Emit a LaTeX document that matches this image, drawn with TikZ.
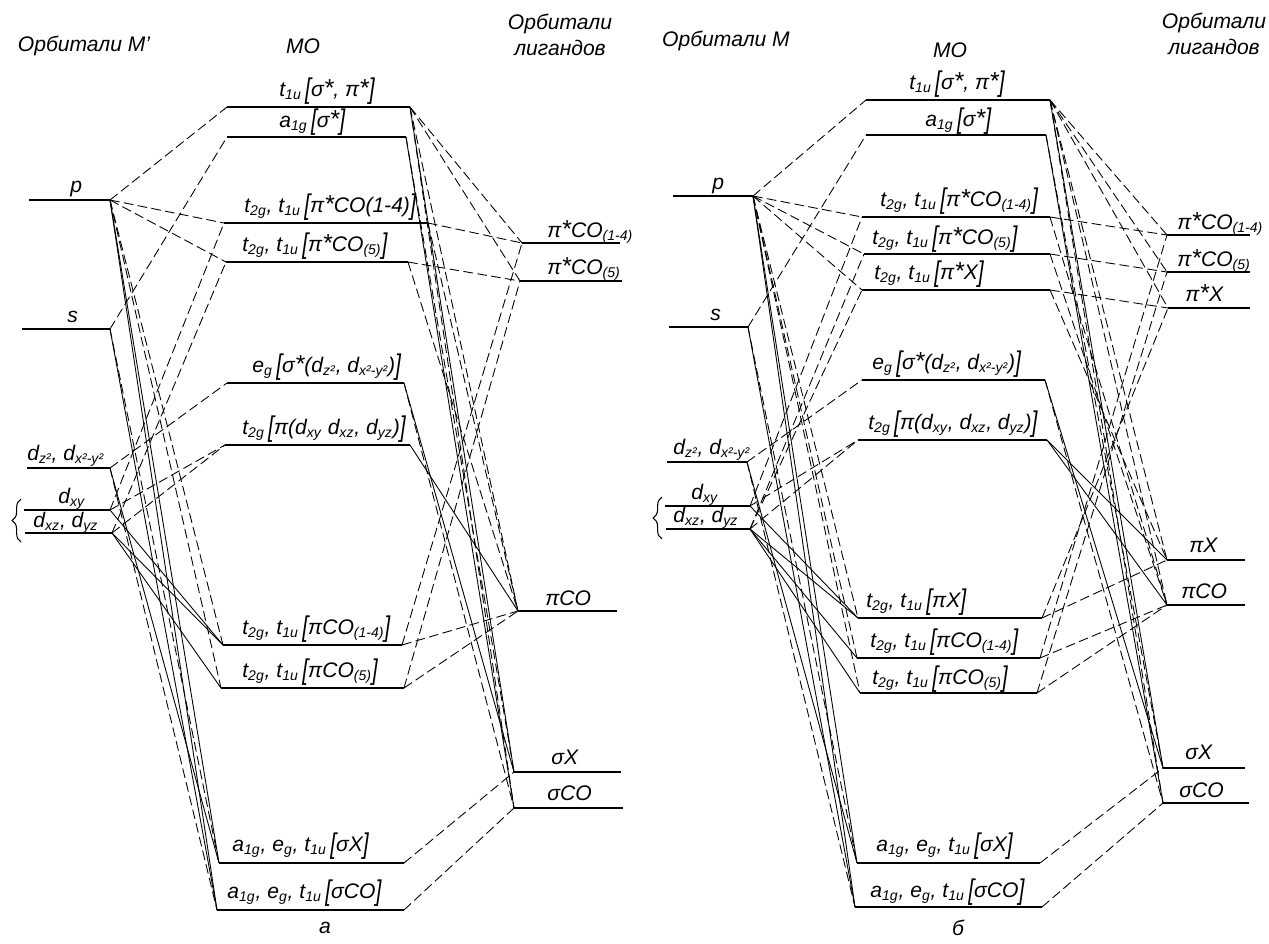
\documentclass[tikz,border=0pt]{standalone}
\usepackage{fontspec}
\setmainfont{Liberation Sans}
\usetikzlibrary{decorations.pathreplacing}

% small helpers for the orbital labels
\newcommand{\ind}[1]{\textsubscript{#1}}
\newcommand{\sstar}{{\fontsize{14}{14}\selectfont *}}
\newcommand{\lb}{\raisebox{-0.25ex}{\scalebox{1}[1.35]{[}}}
\newcommand{\rb}{\raisebox{-0.25ex}{\scalebox{1}[1.35]{]}}}
% energy level: name, x1, x2, y, label x, label baseline, label
\newcommand{\lev}[7]{%
  \coordinate (#1-l) at (#2,#4);
  \coordinate (#1-r) at (#3,#4);
  \draw[orb] (#1-l) -- (#1-r);
  \node[lbl] (#1-t) at (#5,#6) {#7};
}

\begin{document}
\begin{tikzpicture}[
  x=0.02cm, y=-0.02cm,
  orb/.style={line width=1.2pt},
  dsh/.style={line width=0.5pt, dash pattern=on 5.5pt off 2.5pt},
  sol/.style={line width=0.5pt},
  lbl/.style={font=\itshape\fontsize{12}{14}\selectfont, inner sep=0pt, anchor=base west},
  hdr/.style={font=\itshape\fontsize{12}{15}\selectfont, align=center, inner sep=0pt}
  ]
\useasboundingbox (0,0) rectangle (1269,944);

% ================= a =================
% headers
\node[hdr] (a-hm) at (84,46) {Орбитали М'};
\node[hdr] (a-hmo) at (303,46) {МО};
\node[hdr] (a-hl) at (560,35) {Орбитали\\лигандов};

% metal orbitals
\lev{a-p}{29}{110}{200}{70}{192}{p}
\lev{a-s}{22}{110}{329}{67}{322}{s}
\lev{a-d1}{27}{110}{468}{27}{460}{d\ind{z²}, d\ind{x²-y²}}
\lev{a-dxy}{24}{110}{510}{58}{503}{d\ind{xy}}
\lev{a-dxz}{25}{112}{533}{33}{527}{d\ind{xz}, d\ind{yz}}
\coordinate (a-brb) at (21,542);
\coordinate (a-brt) at (21,499);
\draw[decorate, decoration={brace, amplitude=5pt}, line width=0.6pt] (a-brb) -- (a-brt);

% MO
\lev{a-t1u}{227}{410}{107}{279}{96}{t\ind{1u}\,\lb σ\sstar, π\sstar\rb}
\lev{a-a1g}{227}{406}{137}{279}{127}{a\ind{1g}\,\lb σ\sstar\rb}
\lev{a-pstA}{224}{428}{223}{244}{212}{t\ind{2g}, t\ind{1u}\,\lb π\sstar CO(1-4)\rb}
\lev{a-pstB}{226}{408}{262}{242}{251}{t\ind{2g}, t\ind{1u}\,\lb π\sstar CO\ind{(5)}\rb}
\lev{a-eg}{227}{404}{383}{252}{372}{e\ind{g}\,\lb σ\sstar(d\ind{z²}, d\ind{x²-y²})\rb}
\lev{a-t2g}{225}{410}{445}{242}{434}{t\ind{2g}\,\lb π(d\ind{xy} d\ind{xz}, d\ind{yz})\rb}
\lev{a-piA}{223}{402}{645}{242}{634}{t\ind{2g}, t\ind{1u}\,\lb πCO\ind{(1-4)}\rb}
\lev{a-piB}{221}{404}{688}{242}{677}{t\ind{2g}, t\ind{1u}\,\lb πCO\ind{(5)}\rb}
\lev{a-sgX}{219}{404}{863}{232}{851}{a\ind{1g}, e\ind{g}, t\ind{1u}\,\lb σX\rb}
\lev{a-sgCO}{217}{404}{910}{227}{898}{a\ind{1g}, e\ind{g}, t\ind{1u}\,\lb σCO\rb}

% ligand orbitals
\lev{aL-pstA}{522}{620}{243}{547}{237}{π\sstar CO\ind{(1-4)}}
\lev{aL-pstB}{520}{622}{281}{547}{274}{π\sstar CO\ind{(5)}}
\lev{aL-pi}{518}{617}{611}{545}{605}{πCO}
\lev{aL-sgX}{514}{621}{772}{551}{764}{σX}
\lev{aL-sgCO}{514}{623}{808}{547}{800}{σCO}

\node[hdr] (a-cap) at (325,928) {а};

% metal -> MO
\draw[dsh] (a-p-r) -- (a-t1u-l);
\draw[dsh] (a-p-r) -- (a-pstA-l);
\draw[dsh] (a-p-r) -- (a-pstB-l);
\draw[dsh] (a-p-r) -- (a-piA-l);
\draw[dsh] (a-p-r) -- (a-piB-l);
\draw[sol] (a-p-r) -- (a-sgX-l);
\draw[sol] (a-p-r) -- (a-sgCO-l);
\draw[dsh] (a-s-r) -- (a-a1g-l);
\draw[dsh] (a-s-r) -- (a-sgX-l);
\draw[sol] (a-s-r) -- (a-sgCO-l);
\draw[dsh] (a-d1-r) -- (a-eg-l);
\draw[sol] (a-d1-r) -- (a-sgX-l);
\draw[dsh] (a-d1-r) -- (a-sgCO-l);
\draw[dsh] (a-dxy-r) -- (a-t2g-l);
\draw[dsh] (a-dxz-r) -- (a-t2g-l);
\draw[dsh] (a-dxy-r) -- (a-pstA-l);
\draw[dsh] (a-dxz-r) -- (a-pstB-l);
\draw[sol] (a-dxy-r) -- (a-piA-l);
\draw[sol] (a-dxz-r) -- (a-piA-l);
\draw[sol] (a-dxz-r) -- (a-piB-l);

% MO -> ligands
\draw[dsh] (a-t1u-r) -- (aL-pstA-l);
\draw[dsh] (a-t1u-r) -- (aL-pstB-l);
\draw[dsh] (a-t1u-r) -- (aL-pi-l);
\draw[sol] (a-t1u-r) -- (aL-sgX-l);
\draw[dsh] (a-t1u-r) -- (aL-sgCO-l);
\draw[dsh] (a-a1g-r) -- (aL-sgX-l);
\draw[sol] (a-a1g-r) -- (aL-sgCO-l);
\draw[dsh] (a-pstA-r) -- (aL-pstA-l);
\draw[dsh] (a-pstB-r) -- (aL-pstB-l);
\draw[dsh] (a-pstA-r) -- (aL-pi-l);
\draw[dsh] (a-pstB-r) -- (aL-pi-l);
\draw[sol] (a-eg-r) -- (aL-sgX-l);
\draw[dsh] (a-eg-r) -- (aL-sgCO-l);
\draw[sol] (a-t2g-r) -- (aL-pi-l);
\draw[dsh] (a-piA-r) -- (aL-pi-l);
\draw[dsh] (a-piB-r) -- (aL-pi-l);
\draw[dsh] (a-piA-r) -- (aL-pstA-l);
\draw[dsh] (a-piB-r) -- (aL-pstB-l);
\draw[dsh] (a-sgX-r) -- (aL-sgX-l);
\draw[dsh] (a-sgCO-r) -- (aL-sgCO-l);

% ================= b =================
% headers
\node[hdr] (b-hm) at (726,41) {Орбитали М};
\node[hdr] (b-hmo) at (950,50) {МО};
\node[hdr] (b-hl) at (1214,34) {Орбитали\\лигандов};

% metal orbitals
\lev{b-p}{673}{753}{196}{712}{189}{p}
\lev{b-s}{669}{748}{327}{710}{320}{s}
\lev{b-d1}{667}{747}{462}{673}{454}{d\ind{z²}, d\ind{x²-y²}}
\lev{b-dxy}{665}{750}{506}{691}{499}{d\ind{xy}}
\lev{b-dxz}{666}{750}{529}{673}{522}{d\ind{xz}, d\ind{yz}}
\coordinate (b-brb) at (662,539);
\coordinate (b-brt) at (662,497);
\draw[decorate, decoration={brace, amplitude=5pt}, line width=0.6pt] (b-brb) -- (b-brt);

% MO
\lev{b-t1u}{866}{1050}{100}{909}{89}{t\ind{1u}\,\lb σ\sstar, π\sstar\rb}
\lev{b-a1g}{866}{1046}{135}{925}{126}{a\ind{1g}\,\lb σ\sstar\rb}
\lev{b-pstA}{862}{1050}{217}{880}{206}{t\ind{2g}, t\ind{1u}\,\lb π\sstar CO\ind{(1-4)}\rb}
\lev{b-pstB}{864}{1050}{254}{872}{244}{t\ind{2g}, t\ind{1u}\,\lb π\sstar CO\ind{(5)}\rb}
\lev{b-pstX}{862}{1050}{290}{874}{279}{t\ind{2g}, t\ind{1u}\,\lb π\sstar X\rb}
\lev{b-eg}{862}{1045}{380}{872}{369}{e\ind{g}\,\lb σ\sstar(d\ind{z²}, d\ind{x²-y²})\rb}
\lev{b-t2g}{858}{1047}{440}{868}{429}{t\ind{2g}\,\lb π(d\ind{xy}, d\ind{xz}, d\ind{yz})\rb}
\lev{b-piX}{858}{1042}{618}{866}{607}{t\ind{2g}, t\ind{1u}\,\lb πX\rb}
\lev{b-piA}{857}{1040}{658}{870}{647}{t\ind{2g}, t\ind{1u}\,\lb πCO\ind{(1-4)}\rb}
\lev{b-piB}{860}{1037}{693}{872}{684}{t\ind{2g}, t\ind{1u}\,\lb πCO\ind{(5)}\rb}
\lev{b-sgX}{857}{1040}{863}{876}{851}{a\ind{1g}, e\ind{g}, t\ind{1u}\,\lb σX\rb}
\lev{b-sgCO}{855}{1042}{907}{870}{897}{a\ind{1g}, e\ind{g}, t\ind{1u}\,\lb σCO\rb}

% ligand orbitals
\lev{bL-pstA}{1167}{1250}{235}{1177}{229}{π\sstar CO\ind{(1-4)}}
\lev{bL-pstB}{1167}{1250}{272}{1177}{266}{π\sstar CO\ind{(5)}}
\lev{bL-pstX}{1168}{1250}{308}{1185}{301}{π\sstar X}
\lev{bL-piX}{1167}{1245}{560}{1189}{552}{πX}
\lev{bL-pi}{1167}{1245}{605}{1181}{598}{πCO}
\lev{bL-sgX}{1163}{1245}{768}{1185}{759}{σX}
\lev{bL-sgCO}{1163}{1249}{803}{1179}{797}{σCO}

\node[hdr] (b-cap) at (958,928) {б};

% metal -> MO
\draw[dsh] (b-p-r) -- (b-t1u-l);
\draw[dsh] (b-p-r) -- (b-pstA-l);
\draw[dsh] (b-p-r) -- (b-pstB-l);
\draw[dsh] (b-p-r) -- (b-pstX-l);
\draw[dsh] (b-p-r) -- (b-piX-l);
\draw[dsh] (b-p-r) -- (b-piA-l);
\draw[dsh] (b-p-r) -- (b-piB-l);
\draw[sol] (b-p-r) -- (b-sgX-l);
\draw[sol] (b-p-r) -- (b-sgCO-l);
\draw[dsh] (b-s-r) -- (b-a1g-l);
\draw[dsh] (b-s-r) -- (b-sgX-l);
\draw[sol] (b-s-r) -- (b-sgCO-l);
\draw[dsh] (b-d1-r) -- (b-eg-l);
\draw[sol] (b-d1-r) -- (b-sgX-l);
\draw[dsh] (b-d1-r) -- (b-sgCO-l);
\draw[dsh] (b-dxy-r) -- (b-t2g-l);
\draw[dsh] (b-dxz-r) -- (b-t2g-l);
\draw[dsh] (b-dxy-r) -- (b-pstA-l);
\draw[dsh] (b-dxz-r) -- (b-pstB-l);
\draw[dsh] (b-dxz-r) -- (b-pstX-l);
\draw[sol] (b-dxy-r) -- (b-piX-l);
\draw[sol] (b-dxz-r) -- (b-piX-l);
\draw[sol] (b-dxz-r) -- (b-piA-l);
\draw[sol] (b-dxz-r) -- (b-piB-l);

% MO -> ligands
\draw[dsh] (b-t1u-r) -- (bL-pstA-l);
\draw[dsh] (b-t1u-r) -- (bL-pstB-l);
\draw[dsh] (b-t1u-r) -- (bL-pstX-l);
\draw[dsh] (b-t1u-r) -- (bL-piX-l);
\draw[dsh] (b-t1u-r) -- (bL-pi-l);
\draw[sol] (b-t1u-r) -- (bL-sgX-l);
\draw[dsh] (b-t1u-r) -- (bL-sgCO-l);
\draw[dsh] (b-a1g-r) -- (bL-sgX-l);
\draw[sol] (b-a1g-r) -- (bL-sgCO-l);
\draw[dsh] (b-pstA-r) -- (bL-pstA-l);
\draw[dsh] (b-pstB-r) -- (bL-pstB-l);
\draw[dsh] (b-pstX-r) -- (bL-pstX-l);
\draw[dsh] (b-pstA-r) -- (bL-pi-l);
\draw[dsh] (b-pstB-r) -- (bL-pi-l);
\draw[dsh] (b-pstX-r) -- (bL-piX-l);
\draw[sol] (b-eg-r) -- (bL-sgX-l);
\draw[dsh] (b-eg-r) -- (bL-sgCO-l);
\draw[sol] (b-t2g-r) -- (bL-piX-l);
\draw[sol] (b-t2g-r) -- (bL-pi-l);
\draw[dsh] (b-piX-r) -- (bL-piX-l);
\draw[dsh] (b-piA-r) -- (bL-pi-l);
\draw[dsh] (b-piB-r) -- (bL-pi-l);
\draw[dsh] (b-piX-r) -- (bL-pstX-l);
\draw[dsh] (b-piA-r) -- (bL-pstA-l);
\draw[dsh] (b-piB-r) -- (bL-pstB-l);
\draw[dsh] (b-sgX-r) -- (bL-sgX-l);
\draw[dsh] (b-sgCO-r) -- (bL-sgCO-l);

\end{tikzpicture}
\end{document}
